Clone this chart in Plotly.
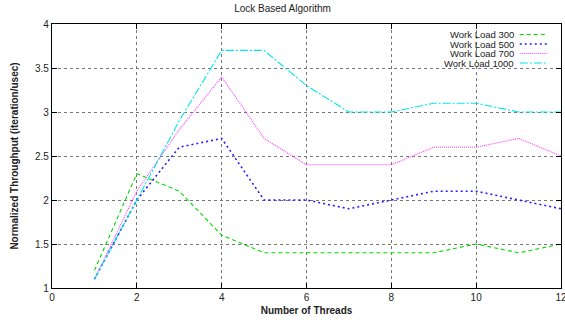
import plotly.graph_objects as go

threads = [1, 2, 3, 4, 5, 6, 7, 8, 9, 10, 11, 12]
wl300 = [1.2, 2.3, 2.1, 1.6, 1.4, 1.4, 1.4, 1.4, 1.4, 1.5, 1.4, 1.5]
wl500 = [1.1, 2.0, 2.6, 2.7, 2.0, 2.0, 1.9, 2.0, 2.1, 2.1, 2.0, 1.9]
wl700 = [1.1, 2.1, 2.8, 3.4, 2.7, 2.4, 2.4, 2.4, 2.6, 2.6, 2.7, 2.5]
wl1000 = [1.1, 2.0, 2.9, 3.7, 3.7, 3.3, 3.0, 3.0, 3.1, 3.1, 3.0, 3.0]

names = ["Work Load 300", "Work Load 500", "Work Load 700", "Work Load 1000"]
series = [wl300, wl500, wl700, wl1000]
colors = ["#00dd00", "#2020ff", "#ff40ff", "#00e8e8"]
dashes = ["4px,3px", "2px,3px", "1px,1px", "8px,2px,2px,2px"]
widths = [1.1, 1.6, 1.1, 1.1]

fig = go.Figure()
for n, s, c, d, w in zip(names, series, colors, dashes, widths):
    fig.add_trace(go.Scatter(x=threads, y=s, mode="lines", name=n,
                             line=dict(color=c, dash=d, width=w), showlegend=False))

# custom gnuplot-style legend (text right, sample on right)
ys = [0.960, 0.924, 0.888, 0.852]
for n, c, d, w, yy in zip(names, colors, dashes, widths, ys):
    fig.add_annotation(x=0.910, y=yy, xref="paper", yref="paper", text=n,
                       showarrow=False, xanchor="right", yanchor="middle",
                       font=dict(size=9.5, color="#222"), borderpad=0)
    fig.add_shape(type="line", xref="paper", yref="paper",
                  x0=0.919, x1=0.974, y0=yy, y1=yy,
                  line=dict(color=c, dash=d, width=w))

fig.update_layout(
    width=565, height=321,
    margin=dict(l=52, r=4, t=24, b=33, autoexpand=False),
    paper_bgcolor="white", plot_bgcolor="white",
    font=dict(family="Liberation Sans, Arial, sans-serif", size=10, color="#222"),
    title=dict(text="Lock Based Algorithm", x=0.5, xanchor="center", y=0.985, yanchor="top",
               font=dict(size=10)),
)
fig.update_xaxes(range=[0, 12], dtick=2, tick0=0, showline=True, linecolor="black", linewidth=1.3,
                 mirror="ticks", ticks="inside", ticklen=5, tickcolor="black",
                 ticklabeloverflow="allow", automargin=False,
                 showgrid=True, gridcolor="#777", griddash="dot", gridwidth=1,
                 zeroline=False,
                 title=dict(text="<b>Number of Threads</b>", font=dict(size=10), standoff=4))
fig.update_yaxes(range=[1, 4], dtick=0.5, tick0=1, showline=True, linecolor="black", linewidth=1.3,
                 mirror="ticks", ticks="inside", ticklen=5, tickcolor="black",
                 automargin=False,
                 showgrid=True, gridcolor="#777", griddash="dot", gridwidth=1,
                 zeroline=False,
                 title=dict(text="<b>Normalized Throughput (iteration/usec)</b>", font=dict(size=10), standoff=14))

fig.write_html("out.html")
